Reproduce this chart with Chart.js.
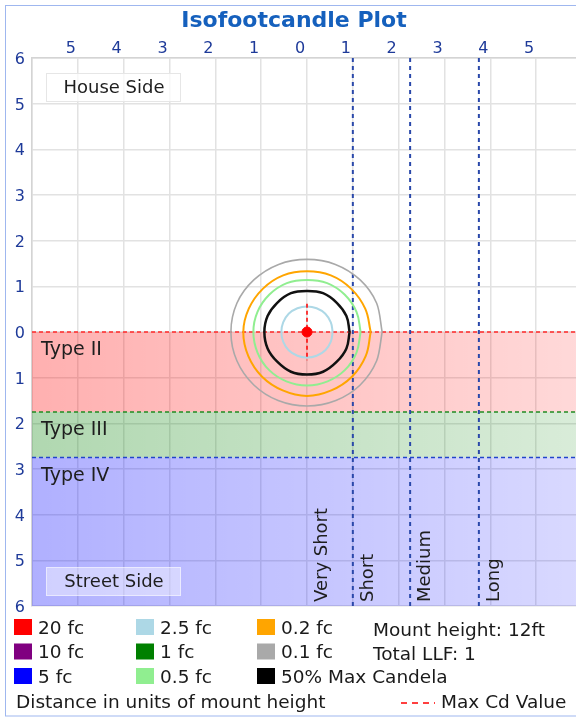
<!DOCTYPE html>
<html>
<head>
<meta charset="utf-8">
<script src="https://cdn.jsdelivr.net/npm/chart.js@4.4.1/dist/chart.umd.min.js"></script>
<style>
html, body { margin: 0; padding: 0; background: #fff; overflow: hidden; }
#wrap { width: 576px; height: 717px; overflow: hidden; position: relative; }
canvas { display: block; }
</style>
</head>
<body>
<div id="wrap"><canvas id="isoChart" width="592" height="717"></canvas></div>
<script>
// zones across the street (units of mount height, street side positive)
const zoneNames = ['Type II', 'Type III', 'Type IV'];
const zoneStart = [0, 1.75, 2.75];
const zoneEnd = [1.75, 2.75, 6];

// throw zones along the road
const throwNames = ['Very Short', 'Short', 'Medium', 'Long'];
const throwStart = [0, 1.0, 2.25, 3.75];

// isofootcandle contours
const fc2_5 = [[0.56,0],[0.52,0.21],[0.40,0.40],[0.21,0.52],[0,0.56],[-0.21,0.52],[-0.40,0.40],[-0.52,0.21],[-0.56,0],[-0.52,-0.21],[-0.40,-0.40],[-0.21,-0.52],[0,-0.56],[0.21,-0.52],[0.40,-0.40],[0.52,-0.21],[0.56,0]];
const maxCd50 = [[0.93,0],[0.86,0.36],[0.65,0.65],[0.35,0.87],[0,0.93],[-0.35,0.87],[-0.65,0.65],[-0.86,0.36],[-0.93,0],[-0.86,-0.35],[-0.65,-0.64],[-0.35,-0.85],[0,-0.90],[0.35,-0.85],[0.65,-0.64],[0.86,-0.35],[0.93,0]];
const fc0_5 = [[1.17,0],[1.08,0.45],[0.83,0.83],[0.45,1.08],[0,1.17],[-0.45,1.08],[-0.83,0.83],[-1.08,0.45],[-1.17,0],[-1.08,-0.44],[-0.82,-0.82],[-0.44,-1.07],[0,-1.14],[0.44,-1.07],[0.82,-0.82],[1.08,-0.44],[1.17,0]];
const fc0_2 = [[1.39,0],[1.28,0.53],[0.98,0.98],[0.53,1.28],[0,1.40],[-0.53,1.28],[-0.98,0.98],[-1.28,0.53],[-1.39,0],[-1.27,-0.51],[-0.96,-0.95],[-0.52,-1.24],[0,-1.33],[0.52,-1.24],[0.96,-0.95],[1.27,-0.51],[1.39,0]];
const fc0_1 = [[1.64,0],[1.52,0.63],[1.16,1.16],[0.63,1.50],[0,1.62],[-0.63,1.50],[-1.16,1.16],[-1.53,0.63],[-1.66,0],[-1.53,-0.63],[-1.16,-1.14],[-0.62,-1.48],[0,-1.59],[0.62,-1.48],[1.16,-1.14],[1.52,-0.63],[1.64,0]];

// max candela marker
const maxCdPoint = [[0, 0]];
const maxCdSpan = [-0.62, 0.62];

// legend
const legendNames = ['20 fc', '10 fc', '5 fc', '2.5 fc', '1 fc', '0.5 fc', '0.2 fc', '0.1 fc', '50% Max Candela'];
const legendColors = ['#ff0000', '#800080', '#0000ff', '#add8e6', '#008000', '#90ee90', '#ffa500', '#a9a9a9', '#000000'];
const infoLines = ['Mount height: 12ft', 'Total LLF: 1'];

const FONT = "'DejaVu Sans', sans-serif";
const zoneRgb = ['255,0,0', '0,128,0', '0,0,255'];
const zoneLineColors = ['#ff2a2a', '#228b22', '#2244cc'];

const pts = arr => arr.map(p => ({ x: p[0], y: p[1] }));

function contour(data, color, width, order, tension) {
  return {
    data: pts(data), showLine: true, borderColor: color, borderWidth: width,
    pointRadius: 0, tension: tension, fill: false, order: order
  };
}

const datasets = [];

zoneStart.forEach((y, i) => {
  datasets.push({
    data: [{ x: -6, y: y }, { x: 6, y: y }], showLine: true, pointRadius: 0,
    borderColor: zoneLineColors[i], borderWidth: 1.5, borderDash: [4, 3], order: 9
  });
});
throwStart.slice(1).forEach(x => {
  datasets.push({
    data: [{ x: x, y: -6 }, { x: x, y: 6 }], showLine: true, pointRadius: 0,
    borderColor: '#2a48aa', borderWidth: 2, borderDash: [4, 4], order: 8
  });
});

datasets.push(contour(fc0_1, '#a9a9a9', 1.6, 6, 0.3));
datasets.push(contour(fc0_2, '#ffa500', 2, 5, 0.4));
datasets.push(contour(fc0_5, '#90ee90', 2, 4, 0.4));
datasets.push(contour(maxCd50, '#111111', 2.5, 3, 0.4));
datasets.push(contour(fc2_5, '#add8e6', 2, 2, 0.4));

datasets.push({
  data: [{ x: 0, y: maxCdSpan[0] }, { x: 0, y: maxCdSpan[1] }], showLine: true,
  pointRadius: 0, borderColor: '#ff0000', borderWidth: 1.5, borderDash: [4, 3], order: 1
});
datasets.push({
  data: pts(maxCdPoint), pointRadius: 5, pointBackgroundColor: '#ff0000',
  pointBorderColor: '#ff0000', showLine: false, order: 0
});

// frame, zone fills, labels and legend
const decor = {
  id: 'decor',
  beforeDraw(chart) {
    const ctx = chart.ctx;
    ctx.save();
    ctx.fillStyle = '#fff';
    ctx.fillRect(0, 0, chart.width, chart.height);
    ctx.strokeStyle = '#9fb7ef';
    ctx.lineWidth = 1;
    ctx.strokeRect(5.5, 5.5, chart.width + 20, 710.5);
    ctx.restore();
  },
  beforeDatasetsDraw(chart) {
    const { ctx, chartArea: a, scales: { y } } = chart;
    ctx.save();
    zoneStart.forEach((s, i) => {
      const top = y.getPixelForValue(s);
      const bot = y.getPixelForValue(zoneEnd[i]);
      const g = ctx.createLinearGradient(a.left, 0, a.right, 0);
      g.addColorStop(0, 'rgba(' + zoneRgb[i] + ',0.31)');
      g.addColorStop(1, 'rgba(' + zoneRgb[i] + ',0.15)');
      ctx.fillStyle = g;
      ctx.fillRect(a.left, top, a.right - a.left, bot - top);
    });
    ctx.restore();
  },
  afterDatasetsDraw(chart) {
    const { ctx, chartArea: a, scales: { x, y } } = chart;
    ctx.save();
    ctx.font = '18px ' + FONT;
    ctx.fillStyle = '#1e1e1e';
    ctx.textBaseline = 'middle';

    // side boxes
    const boxes = [['House Side', a.top + 15, 'rgba(255,255,255,0.75)', '#e6e6e6'],
                   ['Street Side', a.bottom - 39, 'rgba(255,255,255,0.4)', 'rgba(255,255,255,0.5)']];
    boxes.forEach(b => {
      ctx.fillStyle = b[2];
      ctx.fillRect(a.left + 14, b[1], 135, 29);
      ctx.strokeStyle = b[3];
      ctx.lineWidth = 1;
      ctx.strokeRect(a.left + 14.5, b[1] + 0.5, 134, 28);
      ctx.fillStyle = '#1e1e1e';
      ctx.textAlign = 'center';
      ctx.fillText(b[0], a.left + 82, b[1] + 15);
    });

    // zone names
    ctx.textAlign = 'left';
    ctx.font = '19px ' + FONT;
    zoneNames.forEach((n, i) => {
      ctx.fillText(n, a.left + 9, y.getPixelForValue(zoneStart[i]) + 18);
    });

    // throw names, rotated
    ctx.font = '18px ' + FONT;
    throwNames.forEach((n, i) => {
      ctx.save();
      ctx.translate(x.getPixelForValue(throwStart[i]) + 6, a.bottom - 4);
      ctx.rotate(-Math.PI / 2);
      ctx.textBaseline = 'top';
      ctx.textAlign = 'left';
      ctx.fillText(n, 0, 0);
      ctx.restore();
    });
    ctx.restore();
  },
  afterDraw(chart) {
    const ctx = chart.ctx;
    ctx.save();
    ctx.font = '18.5px ' + FONT;
    ctx.textBaseline = 'middle';
    ctx.textAlign = 'left';
    const colX = [14, 136, 257];
    legendNames.forEach((n, i) => {
      const c = Math.floor(i / 3), r = i % 3;
      const cy = 627 + r * 24.5;
      ctx.fillStyle = legendColors[i];
      ctx.fillRect(colX[c], cy - 8, 18, 16);
      ctx.fillStyle = '#1a1a1a';
      ctx.fillText(n, colX[c] + 24, cy + 2);
    });
    infoLines.forEach((t, i) => ctx.fillText(t, 373, 631 + i * 24));
    ctx.fillText('Distance in units of mount height', 16, 703);
    ctx.strokeStyle = '#ff0000';
    ctx.lineWidth = 1.5;
    ctx.setLineDash([6, 5]);
    ctx.beginPath();
    ctx.moveTo(401, 703);
    ctx.lineTo(435, 703);
    ctx.stroke();
    ctx.setLineDash([]);
    ctx.fillText('Max Cd Value', 441, 703);
    ctx.restore();
  }
};

const tickFont = { family: FONT, size: 16 };

new Chart(document.getElementById('isoChart'), {
  type: 'scatter',
  data: { datasets: datasets },
  options: {
    responsive: false,
    animation: false,
    layout: { padding: { left: 6, right: 10, top: 0, bottom: 111 } },
    plugins: {
      legend: { display: false },
      tooltip: { enabled: false },
      title: {
        display: true,
        text: 'Isofootcandle Plot',
        color: '#1560bd',
        font: { family: FONT, size: 22, weight: 'bold' },
        padding: { top: 8, bottom: 0 }
      }
    },
    scales: {
      x: {
        type: 'linear', position: 'top', min: -6, max: 6,
        ticks: {
          stepSize: 1, padding: 0, labelOffset: -7, color: '#1e3a99', font: tickFont,
          callback: v => Math.abs(v) === 6 ? '' : Math.abs(v)
        },
        grid: { color: '#e2e2e2', lineWidth: 1.5, drawTicks: false },
        border: { color: '#d4d4d4', width: 1.5 },
        afterFit: s => { s.height = 58 - 34.4; }
      },
      y: {
        type: 'linear', min: -6, max: 6, reverse: true,
        ticks: {
          stepSize: 1, padding: 7, labelOffset: 2, color: '#1e3a99', font: tickFont,
          callback: v => Math.abs(v)
        },
        grid: { color: '#e2e2e2', lineWidth: 1.5, drawTicks: false },
        border: { color: '#d4d4d4', width: 1.5 },
        afterFit: s => { s.width = 26; }
      }
    }
  },
  plugins: [decor]
});
</script>
</body>
</html>
